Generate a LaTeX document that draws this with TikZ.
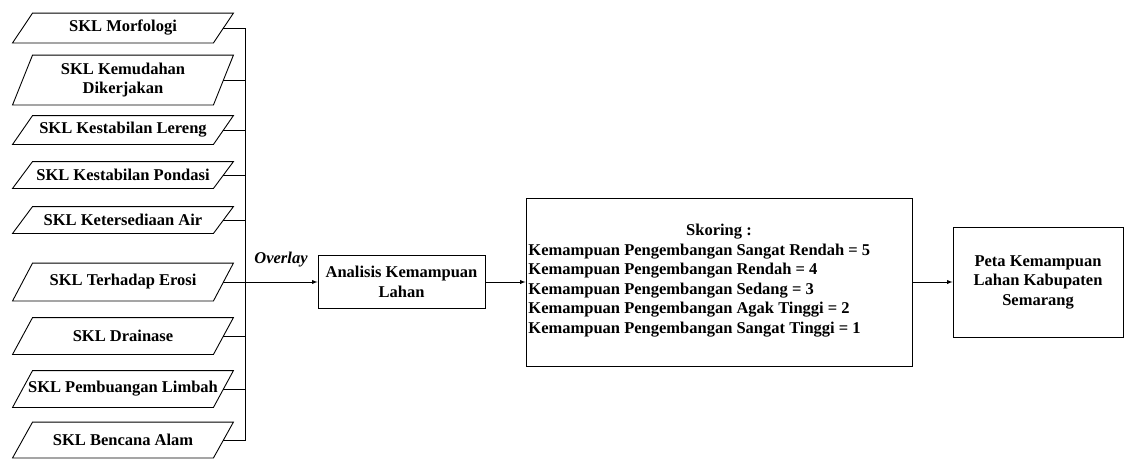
\documentclass[tikz,border=0pt]{standalone}
\usepackage{fontspec}
\setmainfont{Liberation Serif}
\usetikzlibrary{positioning}

\begin{document}
\begin{tikzpicture}[x=1pt,y=-1pt,>=latex,line width=0.9pt,
    every node/.style={font=\fontsize{16.5}{19.5}\selectfont\bfseries},
    data/.style={minimum width=200pt,inner sep=0pt,align=center},
    box/.style={draw,inner sep=0pt,align=center}]
  \useasboundingbox (0,0) rectangle (1124,458);
  % input maps
  \node [data,minimum height=29pt] (morf) at (123,28) {SKL Morfologi};
  \node [data,minimum height=49pt] (kemu) at (123,80) {SKL Kemudahan\\Dikerjakan};
  \node [data,minimum height=28pt] (lereng) at (123,130) {SKL Kestabilan Lereng};
  \node [data,minimum height=26pt] (pondasi) at (123,175) {SKL Kestabilan Pondasi};
  \node [data,minimum height=26pt] (air) at (123,220) {SKL Ketersediaan Air};
  \node [data,minimum height=37pt] (erosi) at (123,282) {SKL Terhadap Erosi};
  \node [data,minimum height=36pt] (drain) at (123,336) {SKL Drainase};
  \node [data,minimum height=36pt] (limbah) at (123,389) {SKL Pembuangan Limbah};
  \node [data,minimum height=35pt] (bencana) at (123,440) {SKL Bencana Alam};
  \foreach \n in {morf,kemu,lereng,pondasi,air,erosi,drain,limbah,bencana}
    \draw ([xshift=10pt]\n.north west) -- ([xshift=10pt]\n.north east)
      -- ([xshift=-10pt]\n.south east) -- ([xshift=-10pt]\n.south west) -- cycle;

  % overlay bus
  \coordinate (bustop) at (245,28);
  \coordinate (busmid) at (bustop |- erosi.east);
  \draw (morf.east) -| (bustop |- bencana.east) -- (bencana.east);
  \foreach \n in {kemu,lereng,pondasi,air,erosi,drain,limbah}
    \draw (\n.east) -- (\n.east -| bustop);
  \node [font=\fontsize{16.5}{19.5}\selectfont\bfseries\itshape] (ovl) at (281,260) {Overlay};

  % analysis chain
  \node [box,minimum width=167pt,minimum height=53pt] (analisis) at (401.5,282) {Analisis Kemampuan\\Lahan};
  \node [box,minimum width=386pt,minimum height=168pt] (skor) at (719,282) {};
  \node (skortitle) at (719,232) {Skoring :};
  \node [anchor=west,inner sep=0pt,align=left] (skorlist) at (528,290.5)
    {Kemampuan Pengembangan Sangat Rendah = 5\\
     Kemampuan Pengembangan Rendah = 4\\
     Kemampuan Pengembangan Sedang = 3\\
     Kemampuan Pengembangan Agak Tinggi = 2\\
     Kemampuan Pengembangan Sangat Tinggi = 1};
  \node [box,minimum width=170pt,minimum height=110pt] (peta) at (1038,282) {Peta Kemampuan\\Lahan Kabupaten\\Semarang};

  \draw [->] (busmid) -- (analisis);
  \draw [->] (analisis) -- (skor);
  \draw [->] (skor) -- (peta);
\end{tikzpicture}
\end{document}
